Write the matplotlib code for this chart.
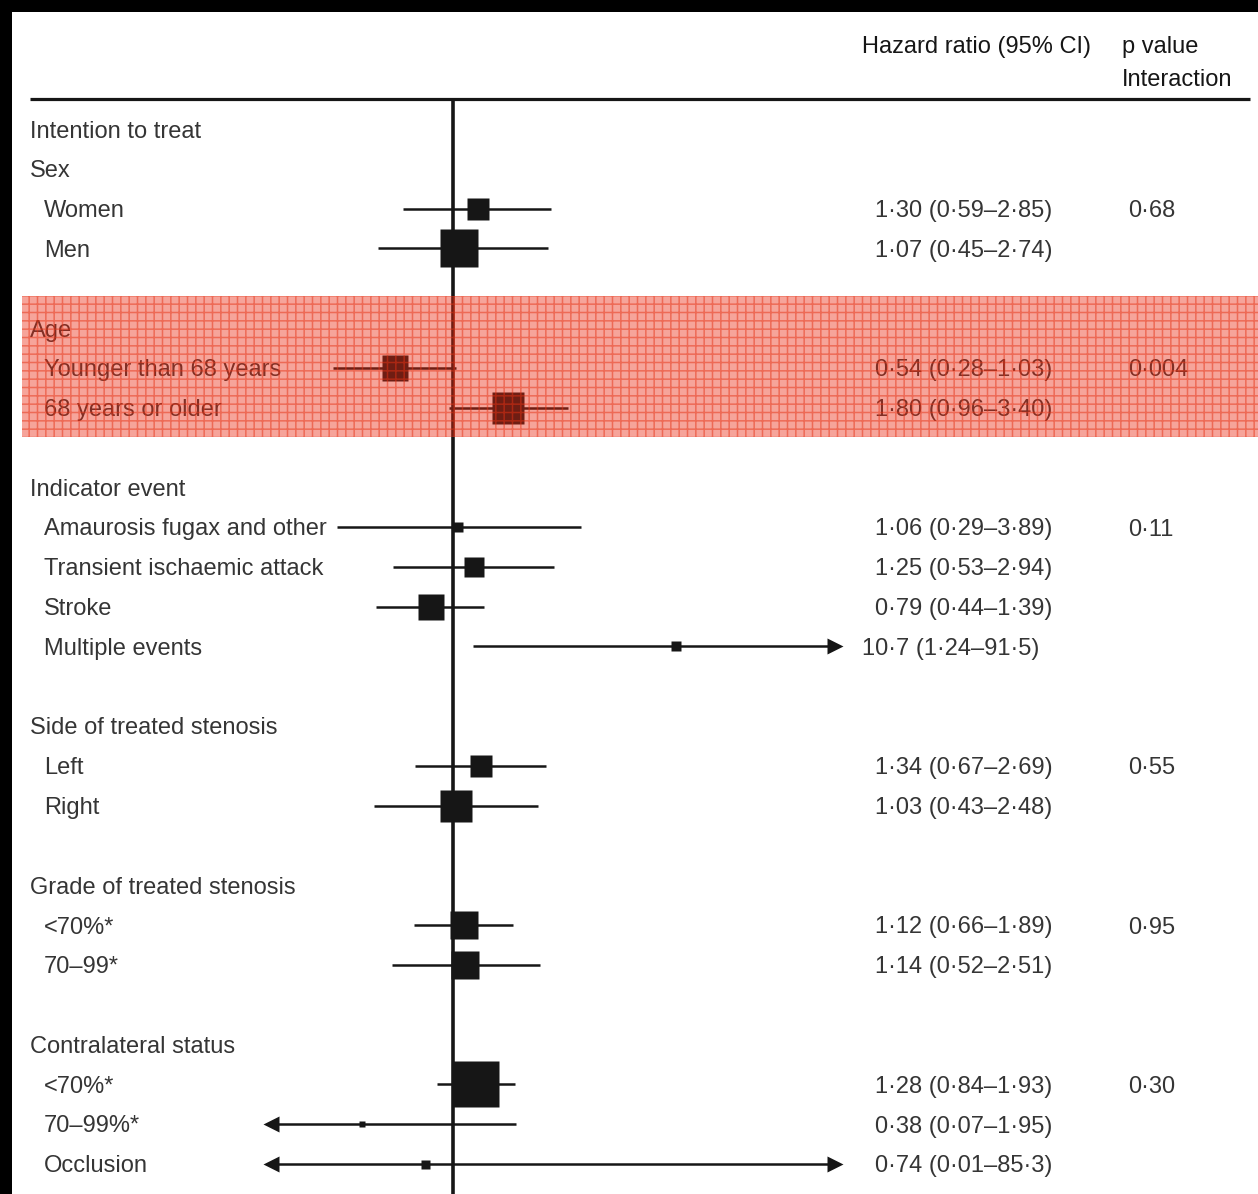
import numpy as np
import matplotlib
matplotlib.use("Agg")
import matplotlib.pyplot as plt
from matplotlib.patches import Rectangle
from matplotlib.transforms import blended_transform_factory

plt.rcParams["font.family"] = ["Liberation Sans", "DejaVu Sans"]
plt.rcParams["hatch.linewidth"] = 1.1

# ---------------- data ----------------
group_names = ["Sex", "Age", "Indicator event", "Side of treated stenosis",
               "Grade of treated stenosis", "Contralateral status"]
group_sizes = [2, 2, 4, 2, 2, 3]
group_pvalues = ["0·68", "0·004", "0·11", "0·55", "0·95", "0·30"]

subgroup_labels = ["Women", "Men",
                   "Younger than 68 years", "68 years or older",
                   "Amaurosis fugax and other", "Transient ischaemic attack",
                   "Stroke", "Multiple events",
                   "Left", "Right",
                   "<70%*", "70–99*",
                   "<70%*", "70–99%*", "Occlusion"]
hazard_ratio = [1.30, 1.07, 0.54, 1.80, 1.06, 1.25, 0.79, 10.7,
                1.34, 1.03, 1.12, 1.14, 1.28, 0.38, 0.74]
ci_low = [0.59, 0.45, 0.28, 0.96, 0.29, 0.53, 0.44, 1.24,
          0.67, 0.43, 0.66, 0.52, 0.84, 0.07, 0.01]
ci_high = [2.85, 2.74, 1.03, 3.40, 3.89, 2.94, 1.39, 91.5,
           2.69, 2.48, 1.89, 2.51, 1.93, 1.95, 85.3]
# relative box size (px) of each estimate
box_px = [22, 38, 26, 32, 10, 20, 26, 10, 22, 32, 28, 28, 46, 6, 9]

highlight_group = "Age"

# ---------------- layout ----------------
W, H = 1258, 1194
ROW0_PX, ROW_PX = 129, 39.8      # first row and row pitch in pixels
X1_PX, PX_PER_LN = 453, 94       # HR = 1 position and log scale
CLIP_LO, CLIP_HI = 0.145, 58.0
INK = "#161616"
TXT = "#353535"
FS = 17
DY = 2.5 / ROW_PX                # nudge text onto the row centre


def row_y(px):
    return (px - ROW0_PX) / ROW_PX


def fx(px):
    return px / W


def fmt(v):
    s = f"{v:.1f}" if v >= 10 else f"{v:.2f}"
    return s.replace(".", "·")


fig = plt.figure(figsize=(W / 100, H / 100), dpi=100, facecolor="black")
fig.add_artist(Rectangle((12 / W, 0), 1, (H - 12) / H, transform=fig.transFigure,
                         facecolor="white", edgecolor="none", zorder=-5))
ax = fig.add_axes([0, 0, 1, 1])
ax.set_xscale("log")
ax.set_xlim(np.exp(-X1_PX / PX_PER_LN), np.exp((W - X1_PX) / PX_PER_LN))
ax.set_ylim(row_y(H), row_y(0))
ax.axis("off")
tx = blended_transform_factory(ax.transAxes, ax.transData)


def put(px, y, s, color=TXT):
    ax.text(fx(px), y + DY, s, transform=tx, fontsize=FS, color=color,
            va="center", ha="left")


# column headings and rule
put(862, row_y(45), "Hazard ratio (95% CI)", INK)
put(1122, row_y(45), "p value", INK)
put(1122, row_y(78), "Interaction", INK)
ax.plot([fx(30), fx(1250)], [row_y(99)] * 2, transform=tx, color=INK,
        lw=2.3, solid_capstyle="butt")

put(30, 0, "Intention to treat")

# line of no effect
ax.plot([1, 1], [row_y(100), row_y(H)], color=INK, lw=2.6, zorder=4)

row = 1
k = 0
band_rows = None
for g, name in enumerate(group_names):
    put(30, row, name)
    put(1128, row + 1, group_pvalues[g])
    if name == highlight_group:
        band_rows = (row, row + group_sizes[g])
    for j in range(group_sizes[g]):
        r = row + 1 + j
        h, lo, hi = hazard_ratio[k], ci_low[k], ci_high[k]
        put(44, r, subgroup_labels[k])
        x_txt = 875 - (13 if h >= 10 else 0)
        put(x_txt, r, f"{fmt(h)} ({fmt(lo)}–{fmt(hi)})")
        ax.plot([max(lo, CLIP_LO), min(hi, CLIP_HI)], [r, r], color=INK,
                lw=1.8, solid_capstyle="butt", zorder=5)
        ax.plot(h, r, marker="s", ms=box_px[k] * 0.72, color=INK, mec="none",
                zorder=6)
        if lo < CLIP_LO:
            ax.plot(CLIP_LO, r, marker="<", ms=11, color=INK, mec="none", zorder=6)
        if hi > CLIP_HI:
            ax.plot(CLIP_HI, r, marker=">", ms=11, color=INK, mec="none", zorder=6)
        k += 1
    row += group_sizes[g] + 2

# highlighted subgroup
top, bottom = band_rows[0] - 0.8, band_rows[1] + 0.74
ax.add_patch(Rectangle((fx(22), top), 1 - fx(22), bottom - top, transform=tx,
                       facecolor=(235 / 255, 40 / 255, 15 / 255), alpha=0.42,
                       edgecolor="none", zorder=10))
ax.add_patch(Rectangle((fx(22), top), 1 - fx(22), bottom - top, transform=tx,
                       facecolor="none", edgecolor=(230 / 255, 50 / 255, 20 / 255),
                       hatch="++", lw=0, alpha=0.5, zorder=11))

fig.savefig("out.png", dpi=100, facecolor=fig.get_facecolor())
